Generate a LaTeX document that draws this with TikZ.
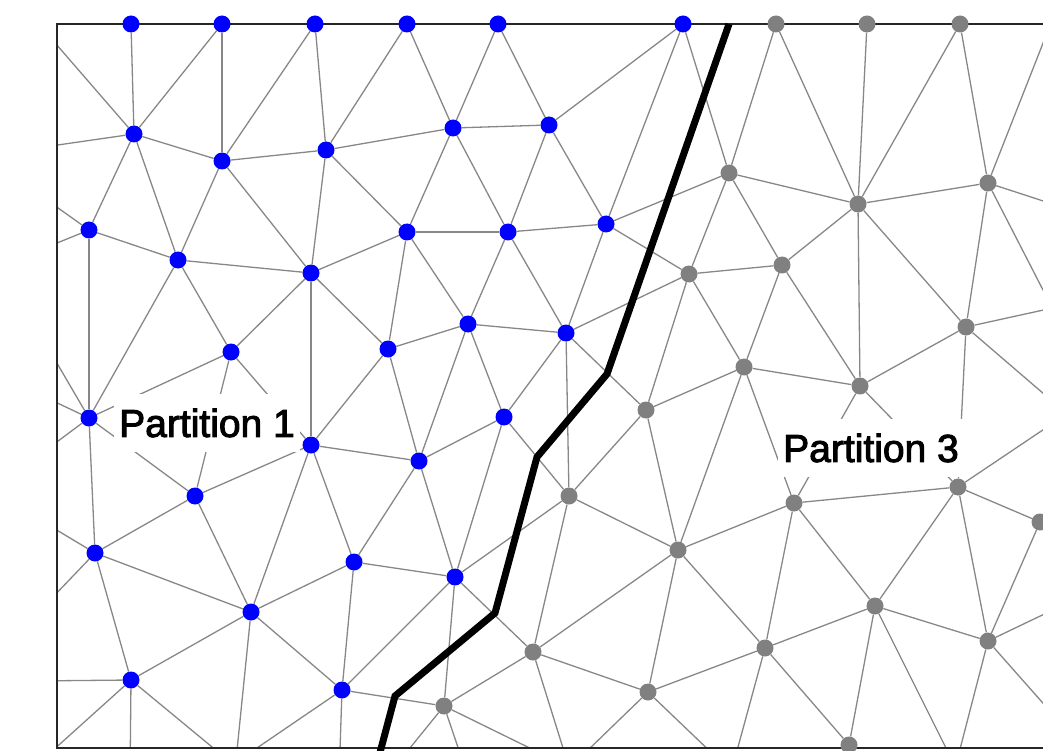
\documentclass[tikz,border=0pt]{standalone}
\usepackage{fontspec}
\setmainfont{Liberation Sans}
\newfontfamily\labelfont[FakeBold=2.5]{Liberation Sans}
\pgfdeclarelayer{mesh}
\pgfsetlayers{mesh,main}
\definecolor{meshgray}{RGB}{135,135,135}
\definecolor{dotgray}{RGB}{128,128,128}
\definecolor{dotblue}{RGB}{0,0,255}
\tikzset{
  bdot/.style={circle,fill=dotblue,draw=none,minimum size=17pt,inner sep=0pt},
  gdot/.style={circle,fill=dotgray,draw=none,minimum size=17pt,inner sep=0pt},
  meshedge/.style={draw=meshgray,line width=1.3pt},
  framebox/.style={draw=black!85,line width=1.6pt},
  cutline/.style={draw=black,line width=7pt},
  lbl/.style={fill=white,inner xsep=5pt,inner ysep=0pt,minimum height=58pt,
    font=\labelfont\fontsize{39pt}{40pt}\selectfont}
}
\begin{document}
\begin{tikzpicture}[x=1pt,y=-1pt]
\useasboundingbox (0,0) rectangle (1043,751);

% outer frame of the domain
\draw[framebox] (1060,24) -- (57,24) -- (57,748) -- (1060,748);

% subdomain labels
\node[lbl] (p1) at (207,423) {Partition 1};
\node[lbl] (p3) at (871,448) {Partition 3};

% interface between the two partitions
\coordinate (c0) at (729,24);
\coordinate (c1) at (607,374);
\coordinate (c2) at (537,457);
\coordinate (c3) at (495,613);
\coordinate (c4) at (395,696);
\coordinate (c5) at (378,760);
\draw[cutline] (c0) -- (c1) -- (c2) -- (c3) -- (c4) -- (c5);

% vertices of partition 1
\foreach \n/\x/\y in {b1/131/24, b2/222/24, b3/315/24, b4/407/24, b5/498/24, b6/683/24,
  b7/134/134, b8/222/161, b9/326/150, b10/453/128, b11/549/125,
  b12/89/230, b13/178/260, b14/311/273, b15/407/232, b16/508/232, b17/606/224,
  b18/231/352, b19/388/349, b20/468/324, b21/566/333,
  b22/89/418, b23/311/445, b24/419/461, b25/504/417,
  b26/195/496, b27/95/553, b28/354/562, b29/455/577,
  b30/251/612, b31/131/680, b32/342/690}
  \node[bdot] (\n) at (\x,\y) {};

% vertices of partition 3
\foreach \n/\x/\y in {g1/776/24, g2/867/24, g3/960/24,
  g4/729/173, g5/858/204, g6/988/183,
  g7/689/274, g8/782/265, g9/966/327,
  g10/744/367, g11/860/386, g12/646/410,
  g13/569/496, g14/794/503, g15/958/487, g16/1040/522,
  g17/678/550, g18/875/606, g19/533/652, g20/765/648,
  g21/988/641, g22/648/692, g23/444/706, g24/849/745}
  \node[gdot] (\n) at (\x,\y) {};

% neighbours lying outside the frame
\foreach \n/\x/\y in {l1/30/14, l2/30/149, l3/30/188, l4/30/254, l5/30/317,
  l6/30/390, l7/30/462, l8/30/514, l9/30/621, l10/30/681, l11/30/771,
  d1/234/780, d2/130/780, d3/252/780, d4/210/780, d5/339/780,
  d6/384/780, d7/469/780, d8/595/780, d9/573/780, d10/557/780,
  d11/740/780, d12/729/780, d13/962/780, d14/952/780,
  r1/1060/0, r2/1080/213, r3/1080/362, r4/1080/302, r5/1080/425,
  r6/1080/405, r7/1080/597, r8/1080/745}
  \coordinate (\n) at (\x,\y);

% mesh edges, clipped to the frame
\begin{pgfonlayer}{mesh}
\begin{scope}
\clip (57,24) rectangle (1060,748);
\foreach \a/\b in {b1/b7, b2/b7, b2/b8, b3/b8, b3/b9, b4/b9, b4/b10, b5/b10, b5/b11,
  b6/b11, b6/b17, b6/g4,
  b7/l1, b7/l2, b7/b8, b7/b12, b7/b13,
  b8/b9, b8/b13, b8/b14,
  b9/b10, b9/b14, b9/b15,
  b10/b11, b10/b15, b10/b16,
  b11/b16, b11/b17,
  b12/l3, b12/l4, b12/b13, b12/b22,
  b13/b14, b13/b18, b13/b22,
  b14/b15, b14/b18, b14/b19, b14/b23,
  b15/b16, b15/b19, b15/b20,
  b16/b17, b16/b20, b16/b21,
  b17/b21, b17/g4, b17/g7,
  b18/b22, b18/b23, b18/b26,
  b19/b20, b19/b23, b19/b24,
  b20/b21, b20/b24, b20/b25,
  b21/b25, b21/g7, b21/g12, b21/g13,
  b22/l5, b22/l6, b22/l7, b22/b26, b22/b27,
  b23/b24, b23/b26, b23/b28, b23/b30,
  b24/b25, b24/b28, b24/b29,
  b25/b29, b25/g13,
  b26/b27, b26/b30,
  b27/b30, b27/b31, b27/l8, b27/l9,
  b28/b29, b28/b30, b28/b32,
  b29/b32, b29/g13, b29/g19, b29/g23,
  b30/b31, b30/b32, b30/d1,
  b31/l10, b31/l11, b31/d2, b31/d3,
  b32/g23, b32/d4, b32/d5,
  g1/g4, g1/g5, g2/g5, g3/g5, g3/g6,
  g4/g5, g4/g7, g4/g8,
  g5/g6, g5/g8, g5/g9, g5/g11,
  g6/g9, g6/r1, g6/r2, g6/r3,
  g7/g8, g7/g10, g7/g12,
  g8/g10, g8/g11,
  g9/g11, g9/g15, g9/r4, g9/r5,
  g10/g11, g10/g12, g10/g14, g10/g17,
  g11/g14, g11/g15,
  g12/g13, g12/g17,
  g13/g17, g13/g19,
  g14/g15, g14/g17, g14/g18, g14/g20,
  g15/g16, g15/g18, g15/g21, g15/r6,
  g16/g21,
  g17/g19, g17/g20, g17/g22,
  g18/g20, g18/g21, g18/g24, g18/d13,
  g19/g22, g19/g23, g19/d9,
  g20/g22, g20/g24, g20/d12,
  g21/r7, g21/r8, g21/d14,
  g22/d10, g22/d11,
  g23/d6, g23/d7, g23/d8}
  \draw[meshedge] (\a) -- (\b);
\end{scope}
\end{pgfonlayer}
\end{tikzpicture}
\end{document}
